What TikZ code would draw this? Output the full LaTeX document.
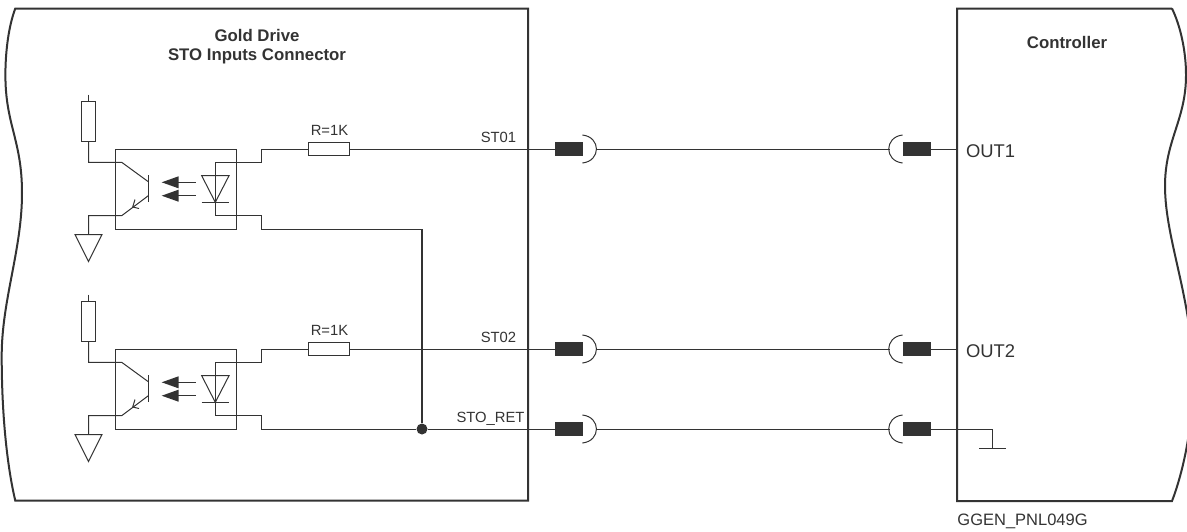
\documentclass[tikz,border=0pt]{standalone}
\usepackage{fontspec}
\setmainfont{Liberation Sans}
\usepackage{xcolor}
\usetikzlibrary{positioning, calc, arrows.meta}
\definecolor{inkgray}{HTML}{333333}
\tikzset{wire/.style={draw=inkgray, line width=0.5pt}}
\tikzset{frameline/.style={draw=inkgray, line width=1pt}}
\tikzset{resistor/.style={draw=inkgray, line width=0.5pt, fill=white, inner sep=0pt, minimum width=20.5pt, minimum height=6.7pt}}
\tikzset{resistorup/.style={draw=inkgray, line width=0.5pt, fill=white, inner sep=0pt, minimum width=7pt, minimum height=20pt}}
\tikzset{optobox/.style={draw=inkgray, line width=0.5pt, inner sep=0pt, minimum width=60.5pt, minimum height=40pt}}
\tikzset{plug/.style={fill=inkgray, inner sep=0pt, minimum width=14pt, minimum height=7pt}}
\tikzset{label/.style={text=inkgray, font=\fontsize{7.4}{9}\selectfont, inner sep=0pt, anchor=base}}
\tikzset{title/.style={text=inkgray, font=\fontsize{8.4}{10}\selectfont\bfseries, inner sep=0pt, anchor=base}}
\tikzset{pinlabel/.style={text=inkgray, font=\fontsize{9.2}{11}\selectfont, inner sep=0pt, anchor=base west}}

\begin{document}
\begin{tikzpicture}[x=0.5pt, y=-0.5pt]

      \useasboundingbox (0,0) rectangle (1187,531);

      % FRAMES

      \draw[frameline] (15.3,8.5) -- (528,8.5) -- (528,500.7) -- (15.3,500.7)
        .. controls (8,470) and (1.7,420) .. (1.7,356)
        .. controls (1.7,300) and (22,250) .. (22,193)
        .. controls (22,140) and (5.4,125) .. (5.4,75)
        .. controls (5.4,50) and (9,25) .. (15.3,8.5) -- cycle;
      \draw[frameline] (1172,8.5) -- (957,8.5) -- (957,501) -- (1172,501)
        .. controls (1182,475) and (1193,430) .. (1193,378)
        .. controls (1193,300) and (1165,240) .. (1165,186)
        .. controls (1165,140) and (1186,120) .. (1186,75)
        .. controls (1186,50) and (1180,25) .. (1172,8.5);

      % TITLES

      \node[title] (driveTitle) at (257,41) {Gold Drive};
      \node[title] (stoTitle) at (257,60) {STO Inputs Connector};
      \node[title] (ctrlTitle) at (1067,48) {Controller};

      % OPTOCOUPLERS

      \foreach \n/\y in {1/0, 2/200} {
        \node[optobox] (opto\n) at (175.5,189+\y) {};
        \node[resistorup] (rUp\n) at (88.5,121.7+\y) {};
        \node[resistor] (rSer\n) at (328.7,149+\y) {};
        \node[label] (rLabel\n) at (329.5,135.7+\y) {R=1K};

        \coordinate (vcc\n) at ($(rUp\n.north)-(0,6.5)$);
        \coordinate (gnd\n) at (88.5,234.5+\y);
        \coordinate (col\n) at (121.7,162.3+\y);
        \coordinate (emi\n) at (121.7,215.7+\y);
        \coordinate (anode\n) at (215.3,162.3+\y);
        \coordinate (cath\n) at (215.3,215.7+\y);

        % transistor
        \draw[wire] (vcc\n) -- (rUp\n.north);
        \draw[wire] (rUp\n.south) |- (col\n) -- (148.3,181.7+\y);
        \draw[wire] (148.3,175+\y) -- (148.3,202.3+\y);
        \draw[wire] (148.3,195.7+\y) -- (emi\n) -- (88.5,215.7+\y) -- (gnd\n);
        \draw[wire] (139,208.5+\y) -- (132.7,207+\y) -- (135,199.5+\y);
        \draw[wire] (gnd\n) ++(-13.5,0) -- ++(27,0) -- ++(-13.5,27) -- cycle;

        % light
        \foreach \a in {182.3,195.7} {
          \draw[wire] (195.7,\a+\y) -- (178,\a+\y);
          \fill[inkgray] (161.7,\a+\y) -- (178.5,\a-6+\y) -- (178.5,\a+6+\y) -- cycle;
        }

        % diode
        \draw[wire] (201.7,175.7+\y) -- (229,175.7+\y) -- (215.3,202.3+\y) -- cycle;
        \draw[wire] (201.7,202.3+\y) -- (229,202.3+\y);
        \draw[wire] (anode\n) -- (cath\n);
        \draw[wire] (anode\n) -- (261.7,162.3+\y) |- (rSer\n.west);
      }

      % CONNECTORS

      \foreach \n/\y/\txt/\tx in {1/149/ST01/498.5, 2/349/ST02/498.5, 3/429/STO\_RET/490.5} {
        \node[plug] (plugL\n) at (569,\y) {};
        \node[plug] (plugR\n) at (917,\y) {};
        \node[label] (sig\n) at (\tx,\y-7) {\txt};
        \coordinate (tipL\n) at (596,\y);
        \coordinate (tipR\n) at (889.5,\y);
        \draw[wire] ($(plugL\n.east)+(-1,-14)$) .. controls ($(plugL\n.east)+(17.7,-12)$) and ($(plugL\n.east)+(17.7,12)$) .. ($(plugL\n.east)+(-1,14)$);
        \draw[wire] ($(plugR\n.west)+(0,-14)$) .. controls ($(plugR\n.west)+(-18.5,-12)$) and ($(plugR\n.west)+(-18.5,12)$) .. ($(plugR\n.west)+(0,14)$);
        \draw[wire] (tipL\n) -- (tipR\n);
      }

      % ARCS

      \coordinate (out1) at (957,149);
      \coordinate (out2) at (957,349);
      \coordinate (gndC) at (992.7,448);
      \node[circle, fill=inkgray, inner sep=0pt, minimum size=5.5pt] (junction) at (422,429) {};
      \coordinate (busTop) at (422,229);

      \draw[wire] (rSer1.east) -- (plugL1.west);
      \draw[wire] (rSer2.east) -- (plugL2.west);
      \draw[wire] (cath1) -- (261.7,215.7) |- (busTop);
      \draw[wire] (cath2) -- (261.7,415.7) |- (junction.west);
      \draw[wire] (junction.east) -- (plugL3.west);
      \draw[frameline] (busTop) -- (junction);
      \draw[wire] (plugR1.east) -- (out1);
      \draw[wire] (plugR2.east) -- (out2);
      \draw[wire] (plugR3.east) -| (gndC);
      \draw[wire] ($(gndC)-(13.7,0)$) -- ($(gndC)+(13.7,0)$);

      % LABELS

      \node[pinlabel] (out1Label) at (965.7,157.5) {OUT1};
      \node[pinlabel] (out2Label) at (965.7,357.8) {OUT2};
      \node[label, anchor=base west, font=\fontsize{8.25}{10}\selectfont] (partLabel) at (957,525.7) {GGEN\_PNL049G};

\end{tikzpicture}
\end{document}
